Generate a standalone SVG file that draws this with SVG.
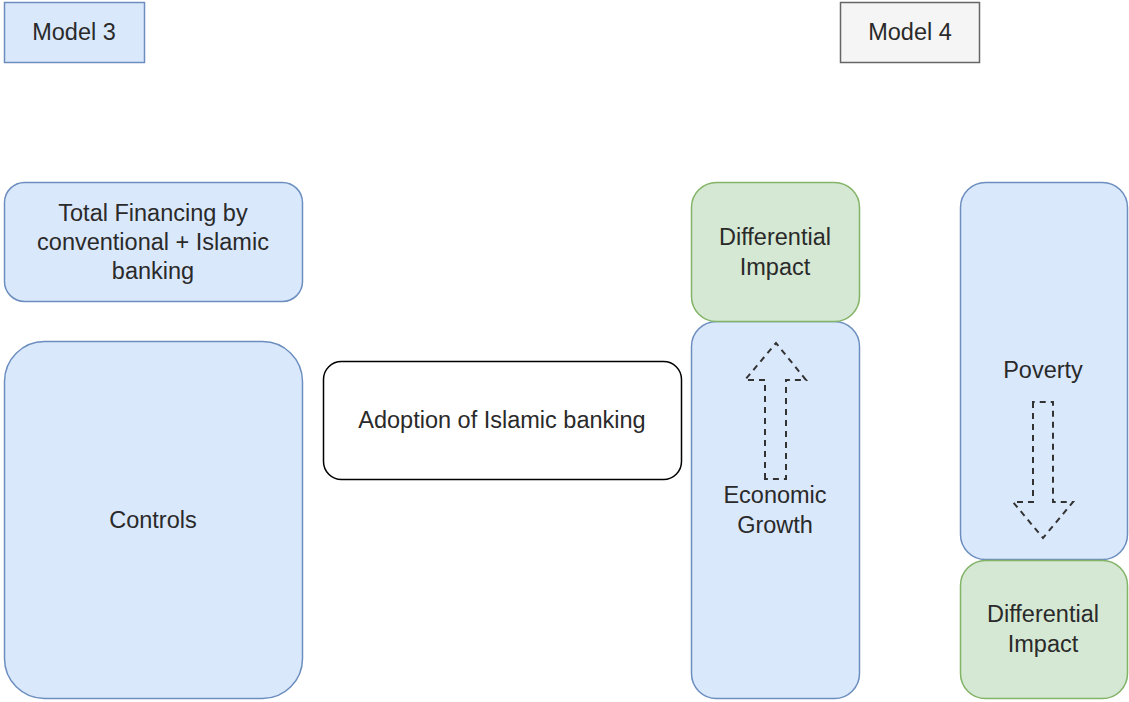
<svg xmlns="http://www.w3.org/2000/svg" width="1129" height="702" viewBox="0 0 1129 702">
<style>
.blue{fill:#dae8fc;stroke:#6c8ebf;stroke-width:1.5}
.green{fill:#d5e8d4;stroke:#82b366;stroke-width:1.5}
.gray{fill:#f5f5f5;stroke:#666666;stroke-width:1.5}
.white{fill:#ffffff;stroke:#000000;stroke-width:1.5}
.arrow{fill:none;stroke:#333333;stroke-width:2;stroke-dasharray:6 5}
text{font-family:"Liberation Sans",Arial,sans-serif;font-size:23.5px;fill:#2a2a2a;text-anchor:middle}
</style>
<rect width="1129" height="702" fill="#ffffff"/>
<g id="model3"><rect class="blue" x="4.5" y="2.5" width="140" height="60"/><text x="74" y="40">Model 3</text></g>
<g id="model4"><rect class="gray" x="840.5" y="2.5" width="139" height="60"/><text x="910" y="40">Model 4</text></g>
<g id="total-financing"><rect class="blue" x="4.5" y="182.5" width="298" height="119" rx="20"/>
<text x="153" y="221">Total Financing by</text><text x="153" y="250">conventional + Islamic</text><text x="153" y="279">banking</text></g>
<g id="controls"><rect class="blue" x="4.5" y="341.5" width="298" height="357" rx="40"/><text x="153" y="528">Controls</text></g>
<g id="adoption"><rect class="white" x="323.5" y="361.5" width="358" height="118" rx="18"/><text x="502" y="428">Adoption of Islamic banking</text></g>
<g id="economic-growth"><rect class="blue" x="691.5" y="321.5" width="168" height="377" rx="25"/><text x="775" y="503">Economic</text><text x="775" y="533">Growth</text></g>
<g id="diff-impact-top"><rect class="green" x="691.5" y="182.5" width="168" height="139" rx="25"/><text x="775" y="245">Differential</text><text x="775" y="275">Impact</text></g>
<g id="poverty"><rect class="blue" x="960.5" y="182.5" width="167" height="377" rx="25"/><text x="1043" y="378">Poverty</text></g>
<g id="diff-impact-bottom"><rect class="green" x="960.5" y="560.5" width="167" height="138" rx="25"/><text x="1043" y="622">Differential</text><text x="1043" y="652">Impact</text></g>
<g id="connectors">
<path class="arrow" d="M765,479 L765,380 L745,380 L776,343 L806,380 L786,380 L786,479 Z"/>
<path class="arrow" d="M1033,402 L1033,502 L1013,502 L1043,538 L1073,502 L1053,502 L1053,402 Z"/>
</g>
</svg>
